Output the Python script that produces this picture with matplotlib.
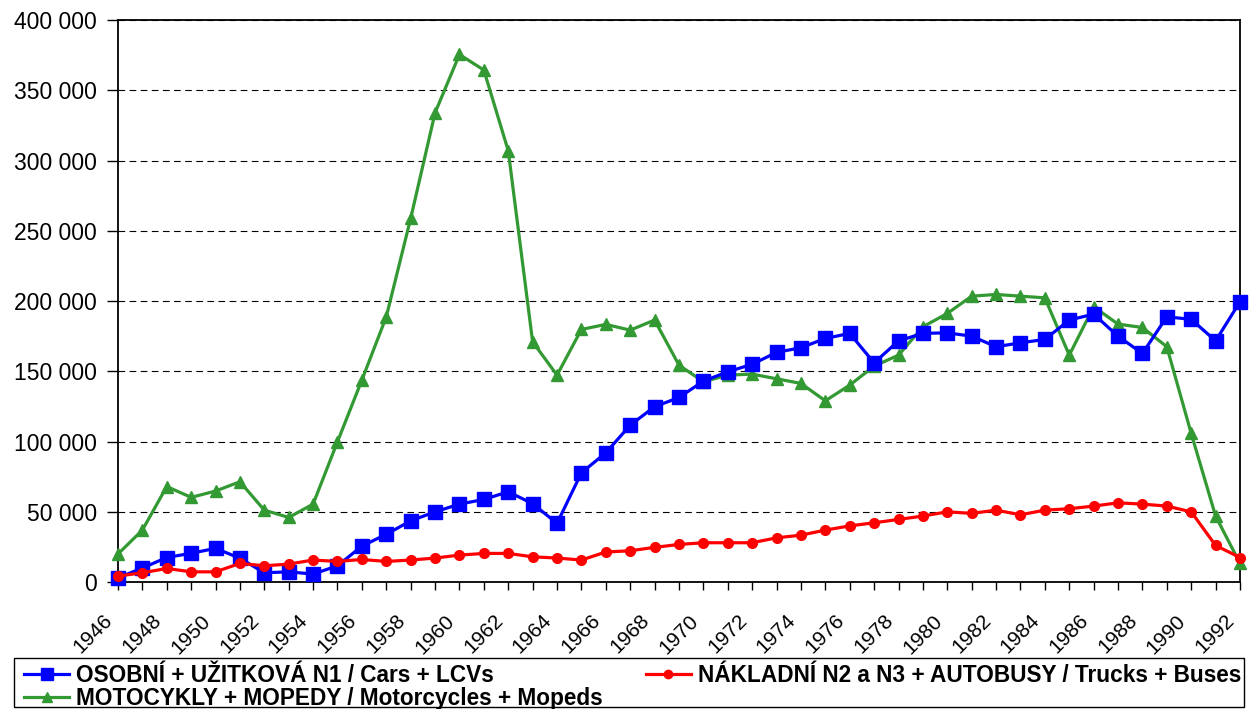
import matplotlib
matplotlib.use("Agg")
import matplotlib.pyplot as plt
from matplotlib.ticker import FuncFormatter
from matplotlib.transforms import ScaledTranslation
from matplotlib.patches import Rectangle

plt.rcParams['font.family'] = ['Liberation Sans', 'DejaVu Sans']

years = list(range(1946, 1993))

cars = [3000, 10000, 17500, 20500, 24000, 17000, 6600, 7300, 5700, 11600,
        25600, 34000, 43600, 50000, 55500, 58800, 64300, 55800, 41800, 77800,
        92000, 111700, 124800, 131400, 143000, 149700, 155000, 163500, 166800, 173400,
        177000, 156000, 171700, 177000, 177400, 175000, 167500, 170300, 172700, 186500,
        190700, 175000, 162700, 188800, 187000, 171700, 199500]

trucks = [4300, 6600, 9700, 7300, 7300, 13300, 11600, 12800, 15700, 14700,
          16100, 14700, 15700, 17100, 19200, 20400, 20400, 18000, 17100, 15700,
          21400, 22300, 24700, 26800, 28000, 28000, 28000, 31500, 33400, 37000,
          40000, 42200, 44600, 47000, 50000, 48900, 51200, 47900, 51200, 52200,
          54100, 56400, 55500, 54100, 50000, 26100, 17500]

motos = [20000, 37000, 68000, 60300, 64800, 71400, 51200, 46000, 55500, 99900,
         143800, 188800, 258800, 334000, 375500, 364400, 307000, 171000, 147300, 179800,
         183400, 179300, 186500, 154400, 142600, 147300, 148000, 144700, 141400, 129000,
         140200, 153700, 161500, 181700, 191200, 203500, 204700, 203500, 202300, 161500,
         196000, 183600, 181200, 167500, 105800, 47000, 13300]

labels = ["OSOBNÍ + UŽITKOVÁ N1 / Cars + LCVs",
          "MOTOCYKLY + MOPEDY / Motorcycles + Mopeds",
          "NÁKLADNÍ N2 a N3 + AUTOBUSY / Trucks + Buses"]

W, H = 1251, 709
fig = plt.figure(figsize=(W / 100, H / 100), dpi=100)
ax = fig.add_axes([0.0943, 0.179, 0.8969, 0.7927])

h1, = ax.plot(years, cars, color='#0000FF', lw=2.3, marker='s', ms=10, clip_on=False, zorder=4)
h2, = ax.plot(years, motos, color='#339933', lw=2.3, marker='^', ms=8, clip_on=False, zorder=3)
h3, = ax.plot(years, trucks, color='#FF0000', lw=2.3, marker='o', ms=7, clip_on=False, zorder=5)

ax.set_xlim(1946, 1992)
ax.set_ylim(0, 400000)
ax.set_yticks(range(0, 400001, 50000))
ax.yaxis.set_major_formatter(FuncFormatter(lambda v, p: f"{v:,.0f}".replace(",", " ")))
ax.set_xticks(years)
ax.set_xticklabels([str(y) if (y - 1946) % 2 == 0 else "" for y in years],
                   rotation=45, ha='right', va='top', rotation_mode='anchor')
ax.tick_params(axis='x', direction='out', length=6, width=1, labelsize=15, pad=4)
ax.tick_params(axis='y', direction='out', length=8, width=1, labelsize=16.5, pad=7)
# shift the rotated year labels down-left like the original
off = ScaledTranslation(-0.15, -0.15, fig.dpi_scale_trans)
for lab in ax.get_xticklabels():
    lab.set_transform(lab.get_transform() + off)
ax.yaxis.grid(True, linestyle=(0, (6, 4)), color='black', lw=0.8)
ax.set_axisbelow(True)
for s in ax.spines.values():
    s.set_color('black')
    s.set_linewidth(1.3)

# legend frame drawn separately (text sits low in the box, as in the original)
fig.patches.append(Rectangle((14 / W, 2 / H), (1244 - 14) / W, (707 - 658) / H,
                             transform=fig.transFigure, facecolor='white',
                             edgecolor='black', lw=1.0, zorder=1))
leg = fig.legend([h1, h2, h3], labels, ncol=2, mode='expand',
                 bbox_to_anchor=(24 / W, 1 - 686.5 / H, (1241 - 24) / W, 0), loc='center left',
                 frameon=False, borderaxespad=0, borderpad=0,
                 prop={'weight': 'bold', 'size': 16.3}, handlelength=2.0,
                 labelspacing=0.0, handletextpad=0.3)
for lh, ms in zip(leg.legend_handles, [8, 7, 6]):
    lh.set_markersize(ms)

fig.savefig("out.png", dpi=100)
